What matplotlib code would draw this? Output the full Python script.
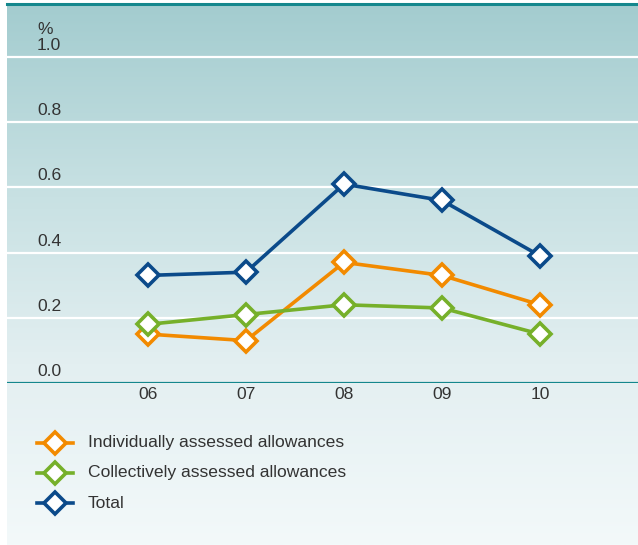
import matplotlib.pyplot as plt
import numpy as np
from matplotlib.colors import LinearSegmentedColormap

years = ['06', '07', '08', '09', '10']
individually = [0.15, 0.13, 0.37, 0.33, 0.24]
collectively = [0.18, 0.21, 0.24, 0.23, 0.15]
total = [0.33, 0.34, 0.61, 0.56, 0.39]
labels = ['Individually assessed allowances', 'Collectively assessed allowances', 'Total']
colors = ['#f28a00', '#76b02a', '#0b4a8a']
yticks = [0.0, 0.2, 0.4, 0.6, 0.8, 1.0]

W, H = 638, 545
fig = plt.figure(figsize=(W / 100, H / 100), dpi=100)
plt.rcParams['font.family'] = ['Liberation Sans', 'DejaVu Sans']
txt = '#333333'
fs = 12.6

# background gradient panel
bg = fig.add_axes([7 / W, 0, 1 - 7 / W, 1 - 4 / H])
cmap = LinearSegmentedColormap.from_list('bg', ['#a3cccf', '#c6e0e2', '#e3eff1', '#f3f9fa'])
grad = np.linspace(0, 1, 256).reshape(-1, 1)
bg.imshow(grad, aspect='auto', cmap=cmap, extent=[0, 1, 0, 1], origin='upper')
bg.axis('off')
fig.add_artist(plt.Line2D([7 / W, 1], [1 - 4 / H, 1 - 4 / H], color='#14878d', lw=2.2,
                          transform=fig.transFigure))

# main plot axes: 0.0 at y=383px, 1.0 at y=57px
ax = fig.add_axes([7 / W, (H - 383) / H, 1 - 7 / W, (383 - 4) / H])
ax.patch.set_alpha(0)
ppu = 383 - 57
ax.set_ylim(0, (383 - 4) / ppu)
x = np.arange(len(years))
ax.set_xlim((7 - 148) / 98, (638 - 148) / 98)
for s in ax.spines.values():
    s.set_visible(False)
ax.set_xticks([])
ax.set_yticks([])

for t in yticks[1:]:
    ax.axhline(t, color='white', lw=1.6, zorder=1)
ax.axhline(0, color='#14878d', lw=1.6, zorder=1)
for t in yticks:
    ax.text((37 - 148) / 98, t + 4 / ppu, f'{t:.1f}', color=txt, fontsize=fs, va='bottom', ha='left')
ax.text((37 - 148) / 98, 1.0 + 20 / ppu, '%', color=txt, fontsize=fs, va='bottom', ha='left')
for i, y in enumerate(years):
    ax.text(i, -4 / ppu, y, color=txt, fontsize=fs, va='top', ha='center')

for series, c in zip([individually, collectively, total], colors):
    ax.plot(x, series, color=c, lw=2.6, marker='D', markersize=11, markerfacecolor='white',
            markeredgecolor=c, markeredgewidth=2.6, zorder=3)

# legend
for i, (lab, c) in enumerate(zip(labels, colors)):
    yy = 1 - (443 + 30 * i) / H
    fig.add_artist(plt.Line2D([37 / W, 73 / W], [yy, yy], color=c, lw=2.6,
                              transform=fig.transFigure))
    fig.add_artist(plt.Line2D([55 / W], [yy], color=c, marker='D', markersize=11, markerfacecolor='white',
                              markeredgecolor=c, markeredgewidth=2.6, transform=fig.transFigure))
    fig.text(88 / W, yy, lab, color=txt, fontsize=fs, va='center', ha='left')

fig.savefig('out.png', dpi=100)
